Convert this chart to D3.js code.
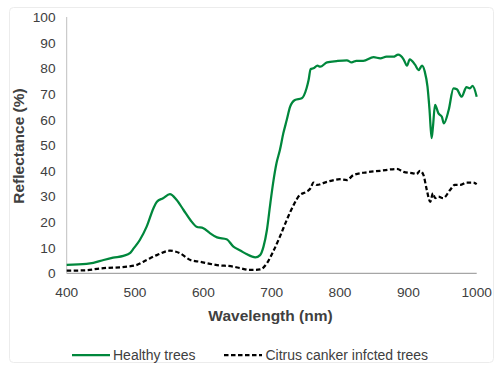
<!DOCTYPE html>
<html>
<head>
<meta charset="utf-8">
<script src="https://cdn.jsdelivr.net/npm/d3@7"></script>
<style>
  body { margin: 0; background: #fff; }
  text { font-family: "Liberation Sans", Arial, sans-serif; }
</style>
</head>
<body>
<svg id="svg" width="496" height="365"></svg>
<script>
// wavelength (nm) / reflectance (%)
const healthyNm = [400, 429, 439, 454, 468, 483, 493, 498, 507, 517, 527, 532, 541, 551, 561, 571, 581, 590, 600, 610, 620, 634, 644, 654, 663, 676, 683, 688, 693, 698, 702, 707, 712, 717, 722, 727, 734, 744, 751, 754, 757, 761, 767, 771, 781, 795, 810, 817, 824, 834, 849, 859, 868, 878, 885, 893, 898, 902, 910, 915, 920, 924, 928, 931, 934, 936, 939, 944, 949, 952, 959, 966, 971, 978, 985, 990, 994, 1000];
const healthyVal = [3.3, 3.7, 4.1, 5.2, 6.1, 6.8, 8.0, 9.7, 13, 18.2, 25.4, 27.9, 29.3, 30.9, 28.6, 24.7, 20.8, 18.2, 17.6, 15.6, 14, 13.3, 10.4, 8.9, 7.5, 6.2, 7.1, 10.4, 16.9, 27.3, 35.1, 42.9, 48.1, 54.6, 59.8, 65, 67.6, 68.3, 72.2, 75.4, 79.7, 80, 81, 80.6, 82.3, 82.8, 83.1, 82.3, 82.9, 82.9, 84.3, 83.9, 84.5, 84.5, 85.3, 83.5, 81, 83.5, 81.3, 79.3, 81, 78.7, 72.8, 63.7, 52.7, 57.2, 65.7, 62.4, 61.1, 58.5, 63.7, 72.2, 71.8, 68.9, 72.6, 72.2, 73.1, 68.9];

const infectedNm = [400, 429, 449, 488, 502, 517, 532, 551, 566, 581, 595, 620, 644, 654, 668, 683, 693, 702, 712, 722, 732, 741, 751, 757, 761, 766, 781, 800, 810, 820, 839, 859, 883, 893, 907, 912, 917, 922, 927, 932, 936, 939, 944, 951, 961, 968, 976, 985, 995, 1000];
const infectedVal = [1.0, 1.2, 1.9, 2.6, 3.2, 5.2, 7.1, 8.8, 7.8, 5.2, 4.5, 3.2, 2.6, 2.0, 1.3, 1.5, 3.9, 8.4, 14.3, 20.8, 26.6, 30.5, 31.8, 33.2, 35.4, 34.5, 35.7, 36.7, 36.4, 38.4, 39.4, 40, 40.7, 39.6, 39, 38.7, 40, 38.4, 32.5, 27.9, 31.2, 29.3, 29.9, 29.3, 32.5, 34.5, 34.5, 35.4, 35.4, 34.8];

const xTicks = [400, 500, 600, 700, 800, 900, 1000];
const yTicks = [0, 10, 20, 30, 40, 50, 60, 70, 80, 90, 100];
const seriesNames = ["Healthy trees", "Citrus canker infcted trees"];

const svg = d3.select('#svg');
const green = '#00873c';

svg.append('rect').attr('x', 9.5).attr('y', 7.5).attr('width', 484).attr('height', 355)
  .attr('rx', 4).attr('fill', 'none').attr('stroke', '#ececec');

const x = d3.scaleLinear().domain([400, 1000]).range([66.7, 476.7]);
const y = d3.scaleLinear().domain([0, 100]).range([273.3, 17]);

const g = svg.append('g');

// axes lines
g.append('line').attr('x1', x(400)).attr('x2', x(1000)).attr('y1', y(0)).attr('y2', y(0))
  .attr('stroke', '#a6a6a6').attr('stroke-width', 1.3);
g.append('line').attr('x1', x(400)).attr('x2', x(400)).attr('y1', y(0)).attr('y2', y(100))
  .attr('stroke', '#bfbfbf').attr('stroke-width', 1);

g.selectAll('.xt').data(xTicks).enter().append('text')
  .attr('x', d => x(d)).attr('y', 297).attr('text-anchor', 'middle')
  .attr('font-size', 13.7).attr('fill', '#404040').text(d => d);
g.selectAll('.yt').data(yTicks).enter().append('text')
  .attr('x', 55.5).attr('y', d => y(d) + 5).attr('text-anchor', 'end')
  .attr('font-size', 13.7).attr('fill', '#404040').text(d => d);

svg.append('text').attr('x', 270.5).attr('y', 321).attr('text-anchor', 'middle')
  .attr('font-size', 15.5).attr('font-weight', 'bold').attr('fill', '#404040').text('Wavelength (nm)');
svg.append('text').attr('transform', `translate(24, 146) rotate(-90)`).attr('text-anchor', 'middle')
  .attr('font-size', 15.5).attr('font-weight', 'bold').attr('fill', '#404040').text('Reflectance (%)');

const line = d3.line().x(d => x(d[0])).y(d => y(d[1])).curve(d3.curveMonotoneX);

g.append('path').attr('d', line(d3.zip(infectedNm, infectedVal)))
  .attr('fill', 'none').attr('stroke', '#000').attr('stroke-width', 2.25).attr('stroke-dasharray', '4.5,2.5');
g.append('path').attr('d', line(d3.zip(healthyNm, healthyVal)))
  .attr('fill', 'none').attr('stroke', green).attr('stroke-width', 2.25);

// legend
const lg = svg.append('g');
lg.append('line').attr('x1', 72).attr('x2', 110).attr('y1', 355).attr('y2', 355)
  .attr('stroke', green).attr('stroke-width', 2.25);
lg.append('text').attr('x', 113).attr('y', 360).attr('font-size', 14).attr('fill', '#404040').text(seriesNames[0]);
lg.append('line').attr('x1', 224).attr('x2', 262).attr('y1', 355).attr('y2', 355)
  .attr('stroke', '#000').attr('stroke-width', 2.25).attr('stroke-dasharray', '4.5,2.5');
lg.append('text').attr('x', 265.5).attr('y', 360).attr('font-size', 14).attr('fill', '#404040').text(seriesNames[1]);
</script>
</body>
</html>
